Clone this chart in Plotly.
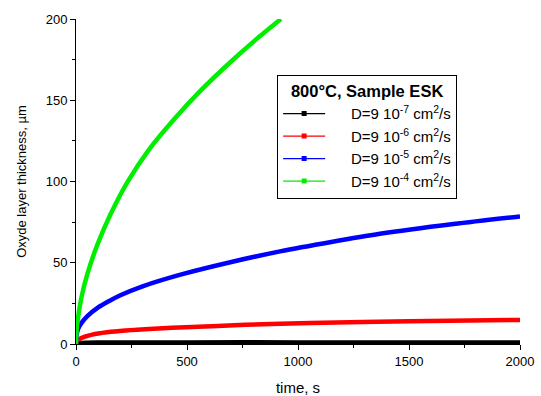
import plotly.graph_objects as go

# time values (s) and thicknesses (µm)
t_green = [0, 3, 10, 25, 51, 96, 156, 231, 328, 440, 559, 700, 810, 923]
v_green = [0, 9, 17, 29, 43, 61, 80, 99.5, 119.5, 138, 155.6, 174, 187.3, 200]

t_blue = [0, 3, 10, 25, 50, 100, 150, 200, 300, 479, 700, 919, 1150, 1369, 1700, 2000]
v_blue = [0, 6, 9.5, 13, 17, 22.5, 26.5, 30, 35.5, 43, 50.5, 57, 62.8, 67.8, 73.8, 78.5]

t_red = [0, 3, 13, 40, 73, 140, 223, 350, 493, 763, 1055, 1500, 2000]
v_red = [0, 1.6, 2.8, 4.5, 5.8, 7.2, 8.3, 9.4, 10.3, 11.8, 13.0, 14.0, 14.8]

t_black = [0, 10, 50, 100, 500, 1000, 1500, 2000]
v_black = [0, 0.5, 0.8, 0.9, 1.0, 1.0, 1.0, 1.0]

pad = "&nbsp;" * 5
labels = [pad + "D=9 10<sup>-7</sup> cm<sup>2</sup>/s",
          pad + "D=9 10<sup>-6</sup> cm<sup>2</sup>/s",
          pad + "D=9 10<sup>-5</sup> cm<sup>2</sup>/s",
          pad + "D=9 10<sup>-4</sup> cm<sup>2</sup>/s"]
colors = ["#000000", "#ff0000", "#0000ff", "#00ee00"]
series = [(t_black, v_black), (t_red, v_red), (t_blue, v_blue), (t_green, v_green)]

fig = go.Figure()
for (t, v), c in zip(series, colors):
    fig.add_trace(go.Scatter(x=t, y=v, mode="lines",
                             line=dict(color=c, width=4.5, shape="spline", smoothing=0.8),
                             showlegend=False, hoverinfo="skip"))
for lab, c in zip(labels, colors):
    fig.add_trace(go.Scatter(x=[None], y=[None], mode="lines+markers", name=lab,
                             line=dict(color=c, width=1.2),
                             marker=dict(color=c, size=5, symbol="square")))

font = "Liberation Sans, Arial, sans-serif"
fig.update_layout(
    width=541, height=396,
    margin=dict(l=76, r=21, t=19, b=52, autoexpand=False),
    paper_bgcolor="white", plot_bgcolor="white",
    font=dict(family=font, size=14, color="#000000"),
    showlegend=True,
    legend=dict(
        x=0.453, y=0.828, xanchor="left", yanchor="top",
        bgcolor="white", bordercolor="#000000", borderwidth=1,
        title=dict(text="<b>800°C, Sample ESK</b>", side="top center",
                   font=dict(family=font, size=16.5)),
        font=dict(family=font, size=15),
        itemwidth=42, tracegroupgap=0,
    ),
    xaxis=dict(
        range=[0, 2000], showgrid=False, zeroline=False, automargin=False,
        showline=True, linecolor="#000000", linewidth=1,
        ticks="outside", ticklen=5, tickcolor="#000000", dtick=500, tick0=0,
        minor=dict(ticks="outside", ticklen=3, dtick=250, tickcolor="#000000"),
        tickfont=dict(size=13),
        title=dict(text="time, s", font=dict(size=15), standoff=28),
    ),
    yaxis=dict(
        range=[0, 200], showgrid=False, zeroline=False, automargin=False,
        showline=True, linecolor="#000000", linewidth=1,
        ticks="outside", ticklen=5, tickcolor="#000000", dtick=50, tick0=0,
        minor=dict(ticks="outside", ticklen=3, dtick=25, tickcolor="#000000"),
        tickfont=dict(size=13),
        title=dict(text="Oxyde layer thickness, µm", font=dict(size=13), standoff=16),
    ),
)
fig.write_html("out.html", config={"displayModeBar": False},
               post_script="document.body.style.margin='0';document.body.style.overflow='hidden';")
